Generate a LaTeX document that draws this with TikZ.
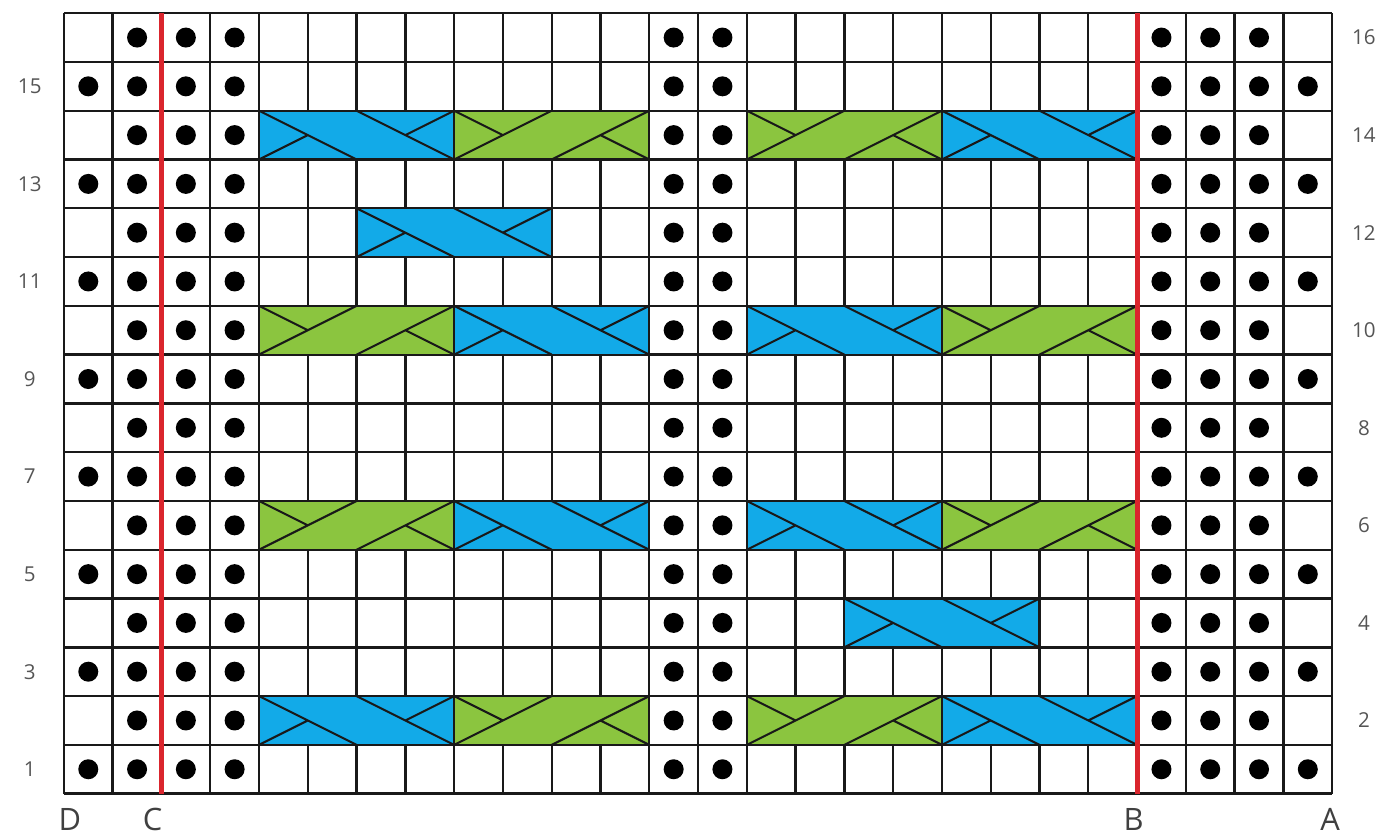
\documentclass[tikz,border=0pt]{standalone}
\usepackage{fontspec}
\setmainfont{Open Sans}
\definecolor{cableblue}{RGB}{18,170,232}
\definecolor{cablegreen}{RGB}{139,197,63}
\definecolor{markred}{RGB}{218,37,45}
\definecolor{labelgray}{RGB}{85,85,85}

\begin{document}
\begin{tikzpicture}[
      gridline/.style={draw=black!90, line width=1.4pt},
      cable/.style={draw=black!90, line width=1.2pt},
      bluecable/.style={fill=cableblue},
      greencable/.style={fill=cablegreen},
      purl/.style={fill=black},
      marker/.style={draw=markred, line width=3pt},
      rownum/.style={text=labelgray, font=\fontsize{12}{14}\selectfont},
      edgelabel/.style={text=black!75, font=\fontsize{18}{20}\selectfont}
    ]
    \useasboundingbox (-1.31,-0.87) rectangle (26.96,16.27);

    % Grid
    \draw [gridline] (0,0) grid (26,16);

    % Cables
    \foreach \x/\y in {4/13, 18/13, 6/11, 8/9, 14/9, 8/5, 14/5, 16/3, 4/1, 18/1} {
      \path [bluecable] (\x,\y) rectangle ++(4,1);
      \draw [cable] (\x,\y) rectangle ++(4,1);
      \draw [cable] (\x,\y+1) -- (\x+2,\y) (\x,\y) -- (\x+1,\y+.5)
        (\x+2,\y+1) -- (\x+4,\y) (\x+4,\y+1) -- (\x+3,\y+.5);
    }
    \foreach \x/\y in {8/13, 14/13, 4/9, 18/9, 4/5, 18/5, 8/1, 14/1} {
      \path [greencable] (\x,\y) rectangle ++(4,1);
      \draw [cable] (\x,\y) rectangle ++(4,1);
      \draw [cable] (\x,\y) -- (\x+2,\y+1) (\x,\y+1) -- (\x+1,\y+.5)
        (\x+2,\y) -- (\x+4,\y+1) (\x+3,\y+.5) -- (\x+4,\y);
    }

    % Purl dots
    \foreach \r in {1,...,16}
      \foreach \c in {2,3,4,13,14,23,24,25}
        \fill [purl] (\c-.5,\r-.5) circle (0.205);
    \foreach \r in {1,3,...,15}
      \foreach \c in {1,26}
        \fill [purl] (\c-.5,\r-.5) circle (0.205);

    % Repeat lines
    \draw [marker] (2,0) -- (2,16);
    \draw [marker] (22,0) -- (22,16);

    % Row numbers
    \foreach \r in {1,3,...,15}
      \node [rownum] (row\r) at (-0.7,\r-.5) {\r};
    \foreach \r in {2,4,...,16}
      \node [rownum] (row\r) at (26.65,\r-.5) {\r};

    % Edge letters
    \node [edgelabel] (edgeD) at (0.12,-0.53) {D};
    \node [edgelabel] (edgeC) at (1.82,-0.53) {C};
    \node [edgelabel] (edgeB) at (21.93,-0.53) {B};
    \node [edgelabel] (edgeA) at (25.96,-0.53) {A};
  \end{tikzpicture}
\end{document}
